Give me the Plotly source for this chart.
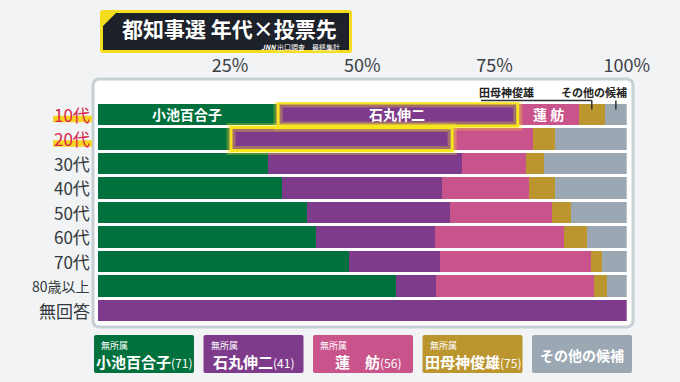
import plotly.graph_objects as go

# ---------------- data ----------------
ages = ["10代", "20代", "30代", "40代", "50代", "60代", "70代", "80歳以上", "無回答"]
koike = [33.7, 24.8, 32.1, 34.8, 39.5, 41.2, 47.5, 56.3, 0]
ishimaru = [45.7, 42.2, 36.7, 30.3, 27.1, 22.6, 17.3, 7.6, 100]
renho = [11.5, 15.3, 12.2, 16.4, 19.3, 24.3, 28.5, 29.9, 0]
tamogami = [5.0, 4.2, 3.3, 4.9, 3.6, 4.3, 2.0, 2.5, 0]
others = [4.1, 13.5, 15.7, 13.6, 10.5, 7.6, 4.7, 3.7, 0]

cand_names = ["小池百合子", "石丸伸二", "蓮　舫", "田母神俊雄", "その他の候補"]
cand_bar_labels = ["小池百合子", "石丸伸二", "蓮 舫", "", ""]
cand_ages = [71, 41, 56, 75, None]
affiliation = "無所属"
highlight_rows = ["10代", "20代"]
tick_vals = [25, 50, 75, 100]
tick_text = ["25%", "50%", "75%", "100%"]
title = "都知事選 年代×投票先"
subtitle = "<i><b>JNN</b></i> 出口調査　最終集計"

colors = ["#00703c", "#7e3b8b", "#c9548b", "#bb962f", "#9ba7b2"]
series = [koike, ishimaru, renho, tamogami, others]

W, H = 680, 382
FONT = "Noto Sans CJK JP"
X_L, X_R = 97.7, 626.7
Y_T, Y_B = 102.2, 322.5


def X(px):
    return px / W


def Y(py):
    return 1 - py / H


def rr(x0, y0, x1, y1, r):
    return (f"M{X(x0 + r)},{Y(y0)} L{X(x1 - r)},{Y(y0)} Q{X(x1)},{Y(y0)} {X(x1)},{Y(y0 + r)} "
            f"L{X(x1)},{Y(y1 - r)} Q{X(x1)},{Y(y1)} {X(x1 - r)},{Y(y1)} "
            f"L{X(x0 + r)},{Y(y1)} Q{X(x0)},{Y(y1)} {X(x0)},{Y(y1 - r)} "
            f"L{X(x0)},{Y(y0 + r)} Q{X(x0)},{Y(y0)} {X(x0 + r)},{Y(y0)} Z")


def data_from_px(px):
    return (px - X_L) / (X_R - X_L) * 100


fig = go.Figure()
for i, (vals, col) in enumerate(zip(series, colors)):
    fig.add_trace(go.Bar(
        y=ages, x=vals, orientation="h", marker=dict(color=col, line=dict(width=0)),
        hoverinfo="skip", showlegend=False,
    ))

shapes = []
annotations = []

# in-bar labels (first row), centred on each segment
start = 0
for i, vals in enumerate(series):
    if cand_bar_labels[i]:
        annotations.append(dict(text=f"<b>{cand_bar_labels[i]}</b>", x=start + vals[0] / 2, y=0,
                                xref="x", yref="y", showarrow=False, xanchor="center", yanchor="middle",
                                font=dict(family=FONT, size=14, color="white")))
    start += vals[0]

# panel
shapes.append(dict(type="path", path=rr(93, 79, 633, 327, 7), xref="paper", yref="paper",
                   fillcolor="white", line=dict(color="#c6d0d4", width=3), layer="below"))

# title box
shapes.append(dict(type="path", path=rr(100, 10, 352, 53, 3), xref="paper", yref="paper",
                   fillcolor="#f3dd1c", line=dict(width=0), layer="above"))
shapes.append(dict(type="path",
                   path=f"M{X(116)},{Y(13)} L{X(349)},{Y(13)} L{X(349)},{Y(50)} L{X(103)},{Y(50)} L{X(103)},{Y(26)} Z",
                   xref="paper", yref="paper", fillcolor="#1d2129", line=dict(width=0), layer="above"))
annotations.append(dict(text=f"<b>{title}</b>", x=X(229.5), y=Y(27.5), xref="paper", yref="paper",
                        showarrow=False, font=dict(family=FONT, size=21, color="white"),
                        xanchor="center", yanchor="middle"))
annotations.append(dict(text=subtitle, x=X(342), y=Y(47.5), xref="paper", yref="paper",
                        showarrow=False, font=dict(family=FONT, size=7, color="white"),
                        xanchor="right", yanchor="middle"))

# y labels
for i, a in enumerate(ages):
    hl = a in highlight_rows
    if hl:
        shapes.append(dict(type="rect", xref="paper", yref="y", x0=X(53), x1=X(92),
                           y0=i + 0.05, y1=i + 0.32, fillcolor="#f8d322", line=dict(width=0),
                           layer="below"))
    annotations.append(dict(text=a, x=X(91.5), y=i, xref="paper", yref="y", showarrow=False,
                            xanchor="right", yanchor="middle",
                            font=dict(family=FONT, size=14 if len(a) > 3 else 17,
                                      color="#d8234a" if hl else "#33383d")))

# highlight boxes around 石丸 segments
half = (1 - 0.1226) / 2
for i, a in enumerate(ages):
    if a in highlight_rows:
        x0 = koike[i]
        x1 = koike[i] + ishimaru[i]
        for lw, col in [(9, "rgba(246,232,40,0.30)"), (3, "#f5e51c")]:
            shapes.append(dict(type="rect", xref="x", yref="y", x0=x0 + 0.4, x1=x1,
                               y0=i - half - 0.03, y1=i + half + 0.03,
                               line=dict(color=col, width=lw), fillcolor="rgba(0,0,0,0)",
                               layer="above"))

# connector labels for small segments (10代 row)
tam_c = koike[0] + ishimaru[0] + renho[0] + tamogami[0] / 2
oth_c = 100 - others[0] / 2
y_line = Y(100.5)
y_end = Y(109.5)
shapes.append(dict(type="line", xref="x", yref="paper", x0=data_from_px(481), x1=tam_c,
                   y0=y_line, y1=y_line, line=dict(color="#2b2f33", width=1.5), layer="above"))
shapes.append(dict(type="line", xref="x", yref="paper", x0=tam_c, x1=tam_c,
                   y0=y_line, y1=y_end, line=dict(color="#2b2f33", width=1.5), layer="above"))
shapes.append(dict(type="line", xref="x", yref="paper", x0=oth_c, x1=oth_c,
                   y0=y_line, y1=y_end, line=dict(color="#2b2f33", width=1.5), layer="above"))
annotations.append(dict(text=f"<b>{cand_names[3]}</b>", x=X(506.5), y=Y(92.5), xref="paper", yref="paper",
                        showarrow=False, xanchor="center", yanchor="middle",
                        font=dict(family=FONT, size=11, color="#222")))
annotations.append(dict(text=f"<b>{cand_names[4]}</b>", x=X(594), y=Y(92.5), xref="paper", yref="paper",
                        showarrow=False, xanchor="center", yanchor="middle",
                        font=dict(family=FONT, size=11, color="#222")))

# legend boxes
for i, (nm, ag, col) in enumerate(zip(cand_names, cand_ages, colors)):
    bx0 = 94 + i * 109.5
    bx1 = bx0 + 100
    shapes.append(dict(type="path", path=rr(bx0, 335, bx1, 373, 2), xref="paper", yref="paper",
                       fillcolor=col, line=dict(width=0), layer="above"))
    cx = (bx0 + bx1) / 2
    if ag is None:
        annotations.append(dict(text=f"<b>{nm}</b>", x=X(cx), y=Y(355), xref="paper", yref="paper",
                                showarrow=False, xanchor="center", yanchor="middle",
                                font=dict(family=FONT, size=14, color="white")))
    else:
        annotations.append(dict(text=affiliation, x=X(bx0 + 5), y=Y(345), xref="paper", yref="paper",
                                showarrow=False, xanchor="left", yanchor="middle",
                                font=dict(family=FONT, size=9, color="white")))
        annotations.append(dict(text=f"<b>{nm}</b><span style='font-size:12px'>({ag})</span>",
                                x=X(cx + (5 if i == 2 else 0)), y=Y(361), xref="paper", yref="paper",
                                showarrow=False, xanchor="center", yanchor="middle",
                                font=dict(family=FONT, size=15, color="white")))

fig.update_layout(
    width=W, height=H, margin=dict(l=0, r=0, t=0, b=0, pad=0, autoexpand=False), autosize=False,
    paper_bgcolor="#f1f3f4", plot_bgcolor="rgba(0,0,0,0)",
    barmode="stack", bargap=0.1226,
    xaxis=dict(range=[0, 100], domain=[X(X_L), X(X_R)], side="top", tickvals=tick_vals,
               ticktext=tick_text, showgrid=False, zeroline=False, showline=False,
               ticks="outside", ticklen=22, tickcolor="rgba(0,0,0,0)", automargin=False,
               tickfont=dict(family=FONT, size=18, color="#3b4045"), fixedrange=True),
    yaxis=dict(type="category", categoryorder="array", categoryarray=ages,
               range=[len(ages) - 0.5, -0.5], domain=[Y(Y_B), Y(Y_T)], automargin=False,
               showticklabels=False, showgrid=False, zeroline=False, showline=False, fixedrange=True),
    shapes=shapes, annotations=annotations,
)

fig.write_html(
    "out.html",
    config={"responsive": False, "displayModeBar": False},
    default_width="680px", default_height="382px",
    post_script="document.body.style.margin='0';document.body.style.overflow='hidden';",
)
